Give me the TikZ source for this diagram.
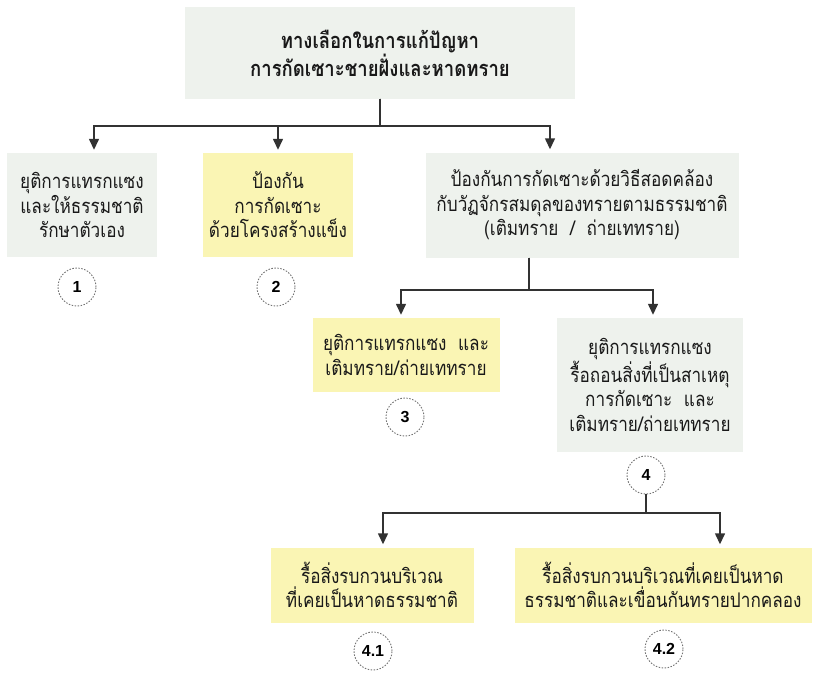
\documentclass[tikz,border=0pt]{standalone}
\usepackage{fontspec}
\newfontfamily\thaifont[Script=Thai,FakeStretch=0.85]{Loma}
\newfontfamily\numfont{Liberation Sans}
\usetikzlibrary{arrows.meta}
\definecolor{boxgray}{RGB}{238,242,237}
\definecolor{boxyellow}{RGB}{250,245,180}
\definecolor{linegray}{RGB}{50,50,50}

\begin{document}
\begin{tikzpicture}[x=1pt,y=-1pt,
    box/.style={align=center,inner sep=0pt,text=black!90,font=\thaifont\fontsize{20.2}{24.5}\selectfont},
    graybox/.style={box,fill=boxgray},
    yellowbox/.style={box,fill=boxyellow},
    num/.style={circle,draw=black!55,dash pattern=on 1.5pt off 1.5pt,line width=0.9pt,minimum size=38pt,inner sep=0pt,font=\numfont\bfseries\fontsize{16}{16}\selectfont},
    arr/.style={draw=linegray,line width=1.4pt,shorten >=3pt,-{Triangle[length=11pt,width=10pt]}}]

    \useasboundingbox (0,0) rectangle (814,677);

    % Top box
    \node[graybox,minimum width=390pt,minimum height=91pt,font=\thaifont\bfseries\fontsize{21.8}{28}\selectfont] (top) at (380,53) {ทางเลือกในการแก้ปัญหา\\การกัดเซาะชายฝั่งและหาดทราย};

    % First level
    \node[graybox,minimum width=150pt,minimum height=104pt] (stop) at (82,205) {ยุติการแทรกแซง\\และให้ธรรมชาติ\\รักษาตัวเอง};
    \node[yellowbox,minimum width=150pt,minimum height=104pt] (hard) at (278,205) {ป้องกัน\\การกัดเซาะ\\ด้วยโครงสร้างแข็ง};
    \node[graybox,minimum width=313pt,minimum height=105pt] (soft) at (582,205) {ป้องกันการกัดเซาะด้วยวิธีสอดคล้อง\\กับวัฏจักรสมดุลของทรายตามธรรมชาติ\\(เติมทราย~~/~~ถ่ายเททราย)};
    \node[num] (n1) at (77,287) {1};
    \node[num] (n2) at (276,287) {2};

    \coordinate (j1) at (0,126);
    \draw[arr] (top.south) -- (top.south |- j1) -| ([xshift=12pt]stop.north);
    \draw[arr] (top.south) -- (top.south |- j1) -| (hard.north);
    \draw[arr] (top.south) -- (top.south |- j1) -| ([xshift=-32pt]soft.north);

    % Second level
    \node[yellowbox,minimum width=187pt,minimum height=74pt] (fill) at (406,355) {ยุติการแทรกแซง~~และ\\เติมทราย/ถ่ายเททราย};
    \node[graybox,minimum width=186pt,minimum height=134pt] (remove) at (650,385) {ยุติการแทรกแซง\\รื้อถอนสิ่งที่เป็นสาเหตุ\\การกัดเซาะ~~และ\\เติมทราย/ถ่ายเททราย};
    \node[num] (n3) at (405,417) {3};
    \node[num] (n4) at (646,475) {4};

    \coordinate (j2) at (0,290);
    \draw[arr] ([xshift=-53pt]soft.south) -- ([xshift=-53pt]soft.south |- j2) -| ([xshift=-5pt]fill.north);
    \draw[arr] ([xshift=-53pt]soft.south) -- ([xshift=-53pt]soft.south |- j2) -| ([xshift=3pt]remove.north);

    % Third level
    \node[yellowbox,minimum width=203pt,minimum height=75pt] (beach) at (372,585) {รื้อสิ่งรบกวนบริเวณ\\ที่เคยเป็นหาดธรรมชาติ};
    \node[yellowbox,minimum width=297pt,minimum height=75pt] (jetty) at (663,585) {รื้อสิ่งรบกวนบริเวณที่เคยเป็นหาด\\ธรรมชาติและเขื่อนกันทรายปากคลอง};
    \node[num] (n41) at (373,651) {4.1};
    \node[num] (n42) at (664,649) {4.2};

    \coordinate (j3) at (0,513);
    \draw[arr] (n4.south) -- (n4.south |- j3) -| ([xshift=11pt]beach.north);
    \draw[arr] (n4.south) -- (n4.south |- j3) -| ([xshift=57pt]jetty.north);

\end{tikzpicture}
\end{document}
